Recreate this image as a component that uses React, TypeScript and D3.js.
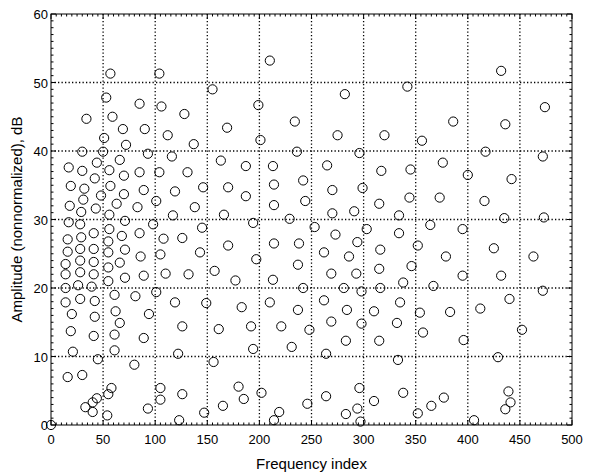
import React, { useRef, useEffect } from 'react';
import * as d3 from 'd3';

// indice de frecuencia de cada punto
const frecuencias: number[] = [
  57, 104, 53, 85, 106, 34, 59, 128, 69, 90, 112, 51, 72, 137, 30, 50, 93, 116,
  44, 66, 17, 30, 56, 85, 104, 131, 42, 70, 19, 32, 57, 89, 119, 48, 70, 31, 63, 101, 18, 43, 83, 138,
  29, 56, 117, 17, 28, 71, 98, 56, 41, 68, 85, 16, 29, 55, 108, 126, 16, 28, 41, 71, 55, 86, 105,
  14, 28, 41, 66, 55, 14, 28, 41, 71, 89, 110, 132, 55, 14, 26, 39,
  14, 28, 42, 61, 81, 101, 119, 20, 42, 62, 94, 66, 19, 126, 41, 61, 89, 21, 61, 122, 45, 80,
  16, 30, 58, 105, 55, 126, 44, 105, 40, 33, 93, 40, 54, 123, 0,
  210, 155, 199, 234, 169, 275, 201, 236,
  163, 187, 213, 265, 146, 170, 214, 242, 270, 187, 214, 244, 166, 270, 194, 229, 145, 253, 273,
  170, 214, 238, 143, 262, 197, 237, 157, 269, 177, 213, 242,
  149, 183, 210, 237, 262, 161, 192, 221, 248, 269, 194, 231, 264, 156, 180, 185, 202, 165, 147,
  219, 214, 264, 246,
  342, 282, 386, 320, 356, 296, 417,
  317, 345, 376, 400, 299, 344, 373, 416, 315, 291, 334, 303, 364, 395, 334, 294, 316, 352, 286,
  379, 293, 315, 346, 395, 338, 367, 281, 316,
  298, 284, 310, 335, 354, 383, 412, 298, 332, 357, 283, 315, 396, 333, 296, 338, 377, 310, 365,
  294, 283, 352, 297, 406,
  432, 474, 436, 472, 442, 435, 473, 425, 463, 432, 472, 440, 452, 429, 439, 441, 436,
];

// amplitud en dB, mismo orden que frecuencias
const amplitudes: number[] = [
  51.3, 51.3, 47.8, 46.9, 46.5, 44.7, 45.0, 45.4, 43.2, 43.2, 42.3, 41.9, 40.9, 41.0, 39.9, 39.9, 39.6, 39.2,
  38.3, 38.7, 37.6, 37.1, 37.2, 36.9, 36.9, 36.9, 36.0, 36.4, 34.9, 34.5, 34.9, 34.3, 34.1, 33.5, 33.7, 32.9, 32.3, 32.7, 32.0, 31.6, 31.8, 31.8,
  31.1, 30.7, 30.6, 29.6, 29.3, 29.8, 29.3, 28.6, 28.0, 27.6, 28.0, 27.1, 27.4, 26.8, 27.2, 27.3, 25.3, 25.7, 25.7, 25.6, 25.2, 24.6, 24.9,
  23.5, 24.0, 23.8, 23.7, 23.0, 22.0, 22.3, 22.0, 21.5, 21.8, 22.1, 22.0, 21.0, 20.0, 20.4, 20.2,
  17.9, 18.4, 18.1, 19.0, 18.8, 19.4, 17.9, 16.2, 15.8, 16.6, 16.2, 14.9, 13.7, 14.4, 13.0, 13.2, 12.7, 10.7, 10.9, 10.4, 9.6, 8.8,
  7.0, 7.3, 5.4, 5.4, 4.5, 4.5, 3.9, 3.7, 3.3, 2.6, 2.4, 1.9, 1.4, 0.7, 0,
  53.2, 49.0, 46.7, 44.3, 43.4, 42.3, 41.6, 39.9,
  38.6, 37.8, 37.8, 37.9, 34.7, 34.7, 35.1, 35.7, 34.3, 33.4, 32.1, 32.7, 30.7, 30.9, 29.5, 30.1, 28.8, 28.9, 27.8,
  26.2, 26.5, 26.5, 25.2, 25.2, 24.2, 23.4, 22.5, 22.1, 21.1, 21.2, 20.0,
  17.8, 17.2, 17.9, 16.8, 18.2, 14.0, 14.4, 14.4, 13.9, 15.1, 11.1, 11.4, 10.4, 9.2, 5.6, 3.8, 4.7, 2.8, 1.8,
  1.9, 0.7, 4.2, 3.1,
  49.4, 48.3, 44.3, 42.3, 41.5, 39.7, 39.9,
  37.1, 37.3, 38.3, 36.5, 34.6, 33.2, 33.2, 32.7, 32.3, 31.2, 30.6, 28.6, 29.2, 28.6, 28.0, 26.7, 25.6, 26.2, 24.6,
  24.6, 22.1, 22.8, 23.2, 21.8, 20.8, 20.3, 20.0, 20.0,
  19.5, 16.8, 16.6, 17.9, 16.4, 16.5, 17.0, 14.8, 14.9, 13.5, 12.3, 12.3, 12.4, 9.5, 5.4, 4.7, 4.0, 3.5, 2.8,
  2.4, 1.6, 1.7, 0.5, 0.7,
  51.7, 46.4, 43.9, 39.2, 35.9, 30.2, 30.3, 25.8, 24.6, 21.8, 19.6, 18.4, 13.9, 9.9, 4.9, 3.3, 2.3,
];

const ticksX: number[] = [0, 50, 100, 150, 200, 250, 300, 350, 400, 450, 500];
const ticksY: number[] = [0, 10, 20, 30, 40, 50, 60];

const tituloX = 'Frequency index';
const tituloY = 'Amplitude (nonnormalized), dB';

const fuente = 'Arial, "Liberation Sans", sans-serif';

const GraficoDispersion: React.FC = () => {
  const svgRef = useRef<SVGSVGElement | null>(null);

  useEffect(() => {
    if (!svgRef.current) return;

    const width = 593;
    const height = 475;
    const margen = { top: 14, right: 21, bottom: 50, left: 51 };

    const svg = d3.select<SVGSVGElement, unknown>(svgRef.current)
      .attr('width', width)
      .attr('height', height)
      .style('background', '#fff');

    svg.selectAll('*').remove();

    const x = d3.scaleLinear().domain([0, 500]).range([margen.left, width - margen.right]);
    const y = d3.scaleLinear().domain([0, 60]).range([height - margen.bottom, margen.top]);

    const [x0, x1] = x.range();
    const [y0, y1] = y.range();

    // rejilla punteada
    const rejilla = svg.append('g');
    rejilla.selectAll('line.gx')
      .data(ticksX.slice(1, -1))
      .enter().append('line')
      .attr('x1', (d) => x(d)).attr('x2', (d) => x(d))
      .attr('y1', y1).attr('y2', y0)
      .attr('stroke', '#000')
      .attr('stroke-width', 1.3)
      .attr('stroke-dasharray', '1.3,2.2');
    rejilla.selectAll('line.gy')
      .data(ticksY.slice(1, -1))
      .enter().append('line')
      .attr('x1', x0).attr('x2', x1)
      .attr('y1', (d) => y(d)).attr('y2', (d) => y(d))
      .attr('stroke', '#000')
      .attr('stroke-width', 1.3)
      .attr('stroke-dasharray', '1.3,2.2');

    // marcas hacia dentro en los cuatro lados
    const marcas = svg.append('g').attr('stroke', '#000').attr('stroke-width', 1);
    const menoresX = d3.range(0, 501, 5);
    const menoresY = d3.range(0, 61, 1);

    marcas.selectAll('line.mx')
      .data(menoresX)
      .enter().append('line')
      .attr('x1', (d) => x(d)).attr('x2', (d) => x(d))
      .attr('y1', y0).attr('y2', (d) => y0 - (d % 50 === 0 ? 5 : 2.5));
    marcas.selectAll('line.mxt')
      .data(menoresX)
      .enter().append('line')
      .attr('x1', (d) => x(d)).attr('x2', (d) => x(d))
      .attr('y1', y1).attr('y2', (d) => y1 + (d % 50 === 0 ? 5 : 2.5));
    marcas.selectAll('line.my')
      .data(menoresY)
      .enter().append('line')
      .attr('y1', (d) => y(d)).attr('y2', (d) => y(d))
      .attr('x1', x0).attr('x2', (d) => x0 + (d % 10 === 0 ? 5 : 2.5));
    marcas.selectAll('line.myr')
      .data(menoresY)
      .enter().append('line')
      .attr('y1', (d) => y(d)).attr('y2', (d) => y(d))
      .attr('x1', x1).attr('x2', (d) => x1 - (d % 10 === 0 ? 5 : 2.5));

    // marco
    svg.append('rect')
      .attr('x', x0)
      .attr('y', y1)
      .attr('width', x1 - x0)
      .attr('height', y0 - y1)
      .attr('fill', 'none')
      .attr('stroke', '#000')
      .attr('stroke-width', 1);

    // etiquetas de los ejes
    svg.append('g').selectAll('text')
      .data(ticksX)
      .enter().append('text')
      .attr('x', (d) => x(d))
      .attr('y', y0 + 19)
      .attr('text-anchor', 'middle')
      .text((d) => d.toString())
      .style('font-family', fuente)
      .style('font-size', '13px');

    svg.append('g').selectAll('text')
      .data(ticksY)
      .enter().append('text')
      .attr('x', x0 - 3)
      .attr('y', (d) => y(d) + 5)
      .attr('text-anchor', 'end')
      .text((d) => d.toString())
      .style('font-family', fuente)
      .style('font-size', '13px');

    svg.append('text')
      .attr('x', (x0 + x1) / 2)
      .attr('y', height - 6)
      .attr('text-anchor', 'middle')
      .text(tituloX)
      .style('font-family', fuente)
      .style('font-size', '15px');

    svg.append('text')
      .attr('transform', `translate(22, ${(y0 + y1) / 2}) rotate(-90)`)
      .attr('text-anchor', 'middle')
      .text(tituloY)
      .style('font-family', fuente)
      .style('font-size', '15px');

    // puntos
    const puntos = frecuencias.map((f, i) => ({ f, a: amplitudes[i] }));
    svg.append('g').selectAll('circle')
      .data(puntos)
      .enter().append('circle')
      .attr('cx', (d) => x(d.f))
      .attr('cy', (d) => y(d.a))
      .attr('r', 4.6)
      .attr('fill', 'none')
      .attr('stroke', '#000')
      .attr('stroke-width', 1);
  }, []);

  return (
    <svg ref={svgRef} style={{ position: 'absolute', left: 0, top: 0, display: 'block' }}></svg>
  );
};

export default function App() {
  return <GraficoDispersion />;
}
